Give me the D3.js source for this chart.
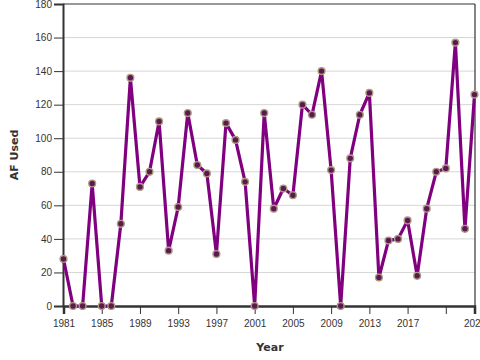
<!DOCTYPE html>
<html>
<head>
<meta charset="utf-8">
<script src="https://cdn.jsdelivr.net/npm/d3@7"></script>
<style>
html,body{margin:0;padding:0;background:#fff;}
svg{display:block;font-family:"DejaVu Sans",sans-serif;}
</style>
</head>
<body>
<svg id="chart" width="480" height="360"></svg>
<script>
const years = [1981,1982,1983,1984,1985,1986,1987,1988,1989,1990,1991,1992,1993,1994,1995,1996,1997,1998,1999,2000,2001,2002,2003,2004,2005,2006,2007,2008,2009,2010,2011,2012,2013,2014,2015,2016,2017,2018,2019,2020,2021,2022,2023,2024];
const afUsed = [28,0,0,73,0,0,49,136,71,80,110,33,59,115,84,79,31,109,99,74,0,115,58,70,66,120,114,140,81,0,88,114,127,17,39,40,51,18,58,80,82,157,46,126];
const yTicks = [0,20,40,60,80,100,120,140,160,180];
const xTicks = [1981,1985,1989,1993,1997,2001,2005,2009,2013,2017,2021,2024];
const xTickLabels = ["1981","1985","1989","1993","1997","2001","2005","2009","2013","2017","","2024"];

const svg = d3.select("#chart");
const m = {left:63, top:4, right:475, bottom:306};
const x = d3.scaleLinear().domain([1981,2024]).range([m.left+0.5, m.right-0.5]);
const y = d3.scaleLinear().domain([0,180]).range([m.bottom, m.top]);

// gridlines
svg.append("g").selectAll("line").data(yTicks.filter(d=>d>0 && d<180)).join("line")
  .attr("x1", m.left).attr("x2", m.right)
  .attr("y1", d=>y(d)).attr("y2", d=>y(d))
  .attr("stroke","#d6d6d6").attr("stroke-width",1);

// frame top/right
svg.append("line").attr("x1",m.left).attr("x2",m.right).attr("y1",m.top).attr("y2",m.top).attr("stroke","#333").attr("stroke-width",1.2);
svg.append("line").attr("x1",m.right).attr("x2",m.right).attr("y1",m.top).attr("y2",m.bottom).attr("stroke","#333").attr("stroke-width",1.2);

// y axis
const yAxis = svg.append("g").attr("transform",`translate(${m.left},0)`)
  .call(d3.axisLeft(y).tickValues(yTicks).tickSize(9).tickPadding(2));
yAxis.select(".domain").attr("stroke","#333").attr("stroke-width",2);
yAxis.selectAll(".tick line").attr("stroke","#333");
yAxis.selectAll("text").attr("fill","#333").style("font-size","10px");

// x axis
const xAxis = svg.append("g").attr("transform",`translate(0,${m.bottom})`)
  .call(d3.axisBottom(x).tickValues(xTicks).tickFormat((d,i)=>xTickLabels[i]).tickSize(8).tickPadding(6));
xAxis.select(".domain").attr("stroke","#333").attr("stroke-width",2.5);
xAxis.selectAll(".tick line").attr("stroke","#333");
xAxis.selectAll("text").attr("fill","#333").style("font-size","10px");

// line
const data = years.map((yr,i)=>({yr, v:afUsed[i]}));
svg.append("path").datum(data)
  .attr("fill","none").attr("stroke","#800080").attr("stroke-width",3.2)
  .attr("stroke-linejoin","round")
  .attr("d", d3.line().x(d=>x(d.yr)).y(d=>y(d.v)));

// points
svg.append("g").selectAll("circle").data(data).join("circle")
  .attr("cx", d=>x(d.yr)).attr("cy", d=>y(d.v)).attr("r",3.4)
  .attr("fill","#5e1850").attr("stroke","#aa9c80").attr("stroke-width",1.4);

// labels
svg.append("text").attr("transform","translate(18,155) rotate(-90)")
  .attr("text-anchor","middle").attr("fill","#333")
  .style("font-size","11px").style("font-weight","bold").text("AF Used");
svg.append("text").attr("x",270).attr("y",351)
  .attr("text-anchor","middle").attr("fill","#333")
  .style("font-size","11px").style("font-weight","bold").text("Year");
</script>
</body>
</html>
